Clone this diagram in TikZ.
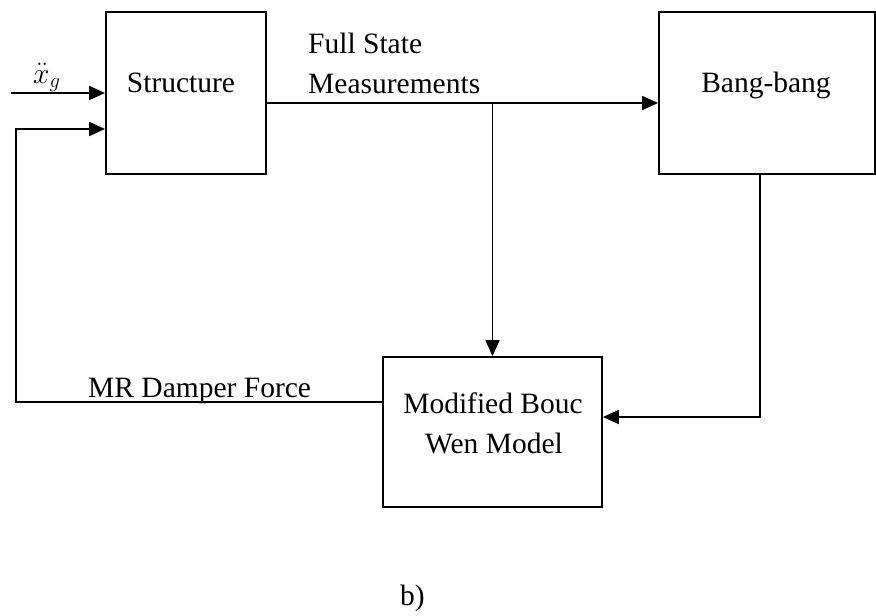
\RequirePackage{fix-cm}
\documentclass[tikz,border=0pt]{standalone}
\usepackage{fontspec}
\setmainfont{Liberation Serif}
\usetikzlibrary{arrows.meta}
\begin{document}
\begin{tikzpicture}[x=1pt,y=-1pt,
  wire/.style={line width=1.8pt},
  arr/.style={wire,-{Triangle[length=16pt,width=14pt]}},
  blockbox/.style={draw,line width=1.8pt,inner sep=0pt,minimum width=#1},
  lbl/.style={font=\fontsize{29.5}{40}\selectfont,inner sep=0pt}]
\useasboundingbox (0,0) rectangle (876,616);

% blocks
\node[blockbox=160pt,minimum height=162pt] (struct) at (186,93) {};
\node[blockbox=216pt,minimum height=162pt] (bang) at (767,93) {};
\node[blockbox=219pt,minimum height=150pt] (mbw) at (492.5,432) {};

% block texts
\node[lbl,anchor=base] (tstruct) at (181,92) {Structure};
\node[lbl,anchor=base] (tbang) at (766,92) {Bang-bang};
\node[lbl,anchor=base] (tmbw1) at (493,413) {Modified Bouc};
\node[lbl,anchor=base] (tmbw2) at (494,453) {Wen Model};

% signal labels
\node[lbl,anchor=base west] (tfs1) at (308,53) {Full State};
\node[lbl,anchor=base west] (tfs2) at (308,93) {Measurements};
\node[lbl,anchor=base west] (tmr) at (88,397) {MR Damper Force};
\node[lbl,anchor=base west] (txg) at (33,83) {$\ddot{x}_g$};
\node[lbl,anchor=base west] (tcap) at (400,605) {b)};

% helper points
\coordinate (xin) at (11,93);
\coordinate (yline) at (0,103);
\coordinate (split) at (mbw.north |- yline);
\coordinate (bx) at (760,417);
\coordinate (fby) at (0,402);
\coordinate (fbL) at (16,402);
\coordinate (fbU) at (16,129);

% connectors
\draw[arr] (xin) -- (struct.west);
\draw[arr] (struct.east |- yline) -- (bang.west |- yline);
\draw[arr] (split) -- (mbw.north);
\draw[arr] (bang.south -| bx) -- (bx) -- (mbw.east |- bx);
\draw[arr] (mbw.west |- fby) -- (fbL) -- (fbU) -- (struct.west |- fbU);
\end{tikzpicture}
\end{document}
